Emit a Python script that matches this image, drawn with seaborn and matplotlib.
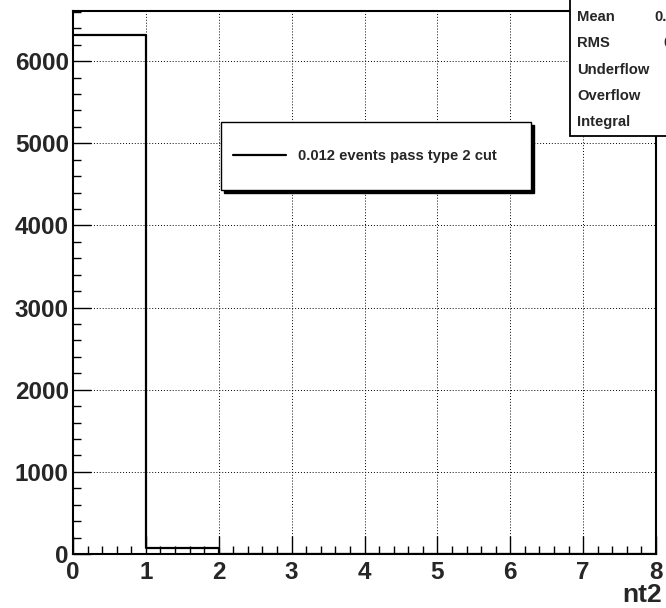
import numpy as np
import pandas as pd
import matplotlib
matplotlib.use("Agg")
import matplotlib.pyplot as plt
from matplotlib.patches import Rectangle
from matplotlib.ticker import MultipleLocator, AutoMinorLocator
import seaborn as sns

# Histogram of nt2: one entry per integer bin [k, k+1)
bin_edges = [0, 1, 2, 3, 4, 5, 6, 7, 8]
bin_counts = [6317, 68, 4, 3, 2, 1, 1, 1]
legend_label = "0.012 events pass type 2 cut"
x_title = "nt2"

stat_names = ["Mean", "RMS", "Underflow", "Overflow", "Integral"]
stat_values = ["0.01218", "0.1198", "0", "0", "6397"]

sns.set_style("white")
plt.rcParams["font.family"] = ["Liberation Sans", "DejaVu Sans"]
plt.rcParams["font.weight"] = "bold"

W, H = 666, 608
fig = plt.figure(figsize=(W / 100, H / 100), dpi=100)
fig.patch.set_facecolor("white")


def fx(px):
    return px / W


def fy(py):
    return 1 - py / H


ax = fig.add_axes([fx(73), fy(554), fx(656) - fx(73), fy(11) - fy(554)])

df = pd.DataFrame({
    "nt2": [(a + b) / 2 for a, b in zip(bin_edges[:-1], bin_edges[1:])],
    "count": bin_counts,
})
sns.histplot(data=df, x="nt2", weights="count", bins=bin_edges,
             element="step", fill=False, color="black", linewidth=1.6,
             label=legend_label, ax=ax)

ax.set_xlim(0, 8)
ax.set_ylim(0, 6610)
ax.xaxis.set_major_locator(MultipleLocator(1))
ax.xaxis.set_minor_locator(AutoMinorLocator(5))
ax.yaxis.set_major_locator(MultipleLocator(1000))
ax.yaxis.set_minor_locator(AutoMinorLocator(5))
ax.grid(True, which="major", color="black", linestyle=(0, (1, 2)), linewidth=0.7)
ax.set_axisbelow(True)
ax.tick_params(which="major", direction="in", length=13, width=1.0,
               color="black", labelsize=17.5, pad=3,
               bottom=True, left=True, top=False, right=False)
ax.tick_params(axis="x", which="major", pad=5)
ax.tick_params(which="minor", direction="in", length=6, width=1.0,
               color="black", bottom=True, left=True, top=False, right=False)
for lab in ax.get_xticklabels() + ax.get_yticklabels():
    lab.set_fontweight("bold")
for sp in ax.spines.values():
    sp.set_linewidth(1.5)
    sp.set_color("black")

ax.set_ylabel("")
ax.set_xlabel(x_title, fontsize=19, fontweight="bold", loc="right")
ax.xaxis.set_label_coords((662 - 73) / (656 - 73), (554 - 583) / (554 - 11))

# Legend box with drop shadow
ax.add_patch(Rectangle((fx(224), fy(193)), fx(534) - fx(224), fy(125) - fy(193),
                       transform=fig.transFigure, facecolor="black",
                       edgecolor="black", clip_on=False, zorder=4))
ax.add_patch(Rectangle((fx(221), fy(190)), fx(531) - fx(221), fy(122) - fy(190),
                       transform=fig.transFigure, facecolor="white",
                       edgecolor="black", linewidth=1.0, clip_on=False, zorder=4.5))
leg = ax.legend(loc="center left", bbox_to_anchor=(fx(233), fy(156)),
                bbox_transform=fig.transFigure, frameon=False, borderpad=0,
                borderaxespad=0, handlelength=3.6, handletextpad=0.8,
                prop={"family": "Liberation Sans", "weight": "bold", "size": 10.6})
leg.set_zorder(6)
for h in leg.legend_handles:
    h.set_linewidth(1.6)

# Statistics box in the upper right corner
fig.add_artist(Rectangle((fx(570), fy(136)), fx(720) - fx(570), fy(-20) - fy(136),
                         transform=fig.transFigure, facecolor="white",
                         edgecolor="black", linewidth=1.3, zorder=10))
for i, (name, val) in enumerate(zip(stat_names, stat_values)):
    base = 21 + i * 26.3
    fig.text(fx(577), fy(base), name, fontsize=10.6, fontweight="bold",
             va="baseline", ha="left", zorder=11)
    fig.text(fx(708), fy(base), val, fontsize=10.6, fontweight="bold",
             va="baseline", ha="right", zorder=11)

fig.savefig("out.png", dpi=100)
